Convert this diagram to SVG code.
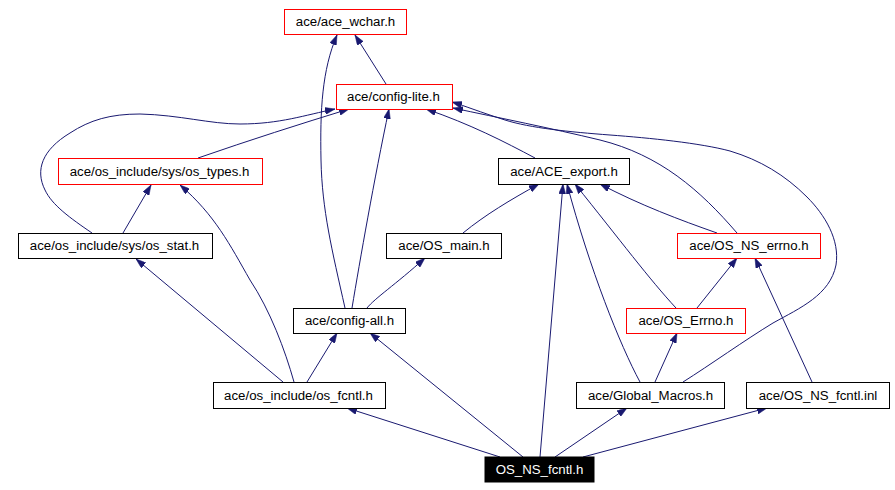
<svg xmlns="http://www.w3.org/2000/svg" width="895" height="490" viewBox="0 0 895 490">
<style>
  .n rect { fill: #ffffff; stroke: #000000; stroke-width: 1; }
  .n.red rect { stroke: #ff0000; }
  .n.root rect { fill: #000000; stroke: #000000; }
  .n text { font-family: "Liberation Sans", Arial, sans-serif; font-size: 13.25px; text-anchor: middle; fill: #000000; }
  .n.root text { fill: #ffffff; }
  #edges path { fill: none; stroke: #191970; stroke-width: 1; marker-end: url(#arr); }
</style>
<defs>
  <marker id="arr" viewBox="0 0 10 7" refX="10" refY="3.5" markerWidth="10" markerHeight="7" markerUnits="userSpaceOnUse" orient="auto">
    <path d="M0,0 L10,3.5 L0,7 z" fill="#191970" stroke="#191970" stroke-width="0.5"/>
  </marker>
</defs>
<rect width="895" height="490" fill="#ffffff"/>
<g id="edges">
  <path d="M386,84 L355,35"/>
  <path d="M345,308 C332,250 322,210 321,160 C320,110 322,70 337,35"/>
  <path d="M352,308 C360,260 374,180 389,109"/>
  <path d="M198,158 C250,140 300,124 349,109"/>
  <path d="M92,233 C70,218 52,205 45,190 C35,170 42,150 70,133 C90,120 110,114 140,114 C180,115 210,124 240,124 C280,124 305,115 335,109"/>
  <path d="M123,233 L151,185"/>
  <path d="M294,382 C285,350 270,310 250,280 C230,245 215,215 180,185"/>
  <path d="M283,382 L136,259"/>
  <path d="M307,382 L337,333"/>
  <path d="M367,308 C375,298 395,285 425,258"/>
  <path d="M463,233 C485,215 510,200 539,184"/>
  <path d="M535,158 C505,142 470,124 426,109"/>
  <path d="M737,233 C700,190 660,155 600,140 C550,128 500,118 453,108"/>
  <path d="M683,382 C710,365 745,340 773,323 C800,308 830,295 836,265 C840,240 825,215 807,197 C785,175 760,160 730,151 C700,143 650,138 610,135 C570,132 530,128 505,120 C480,112 465,106 452,102"/>
  <path d="M717,233 C680,220 640,205 600,184"/>
  <path d="M676,308 C650,280 620,240 575,184"/>
  <path d="M697,308 L737,258"/>
  <path d="M640,382 C620,345 590,270 567,184"/>
  <path d="M655,382 L677,333"/>
  <path d="M812,382 L755,258"/>
  <path d="M500,457 L347,408"/>
  <path d="M523,457 L370,333"/>
  <path d="M540,457 L563,184"/>
  <path d="M555,457 L627,408"/>
  <path d="M583,457 L767,408"/>
</g>
<g id="ace_wchar" class="n red"><rect x="284.5" y="9.5" width="122" height="25"/><text x="345.5" y="26">ace/ace_wchar.h</text></g>
<g id="config_lite" class="n red"><rect x="336.5" y="84.5" width="116" height="25"/><text x="393.5" y="101">ace/config-lite.h</text></g>
<g id="os_types" class="n red"><rect x="58.5" y="158.5" width="204" height="26"/><text x="159.5" y="176">ace/os_include/sys/os_types.h</text></g>
<g id="ace_export" class="n"><rect x="498.5" y="158.5" width="131" height="26"/><text x="564" y="176">ace/ACE_export.h</text></g>
<g id="os_stat" class="n"><rect x="18.5" y="233.5" width="194" height="25"/><text x="114.5" y="250">ace/os_include/sys/os_stat.h</text></g>
<g id="os_main" class="n"><rect x="386.5" y="233.5" width="115" height="25"/><text x="444" y="250">ace/OS_main.h</text></g>
<g id="os_ns_errno" class="n red"><rect x="677.5" y="233.5" width="143" height="25"/><text x="749" y="250">ace/OS_NS_errno.h</text></g>
<g id="config_all" class="n"><rect x="293.5" y="308.5" width="112" height="25"/><text x="349.5" y="325">ace/config-all.h</text></g>
<g id="os_errno" class="n red"><rect x="626.5" y="308.5" width="119" height="25"/><text x="686" y="325">ace/OS_Errno.h</text></g>
<g id="os_fcntl" class="n"><rect x="213.5" y="382.5" width="172" height="26"/><text x="298.5" y="400">ace/os_include/os_fcntl.h</text></g>
<g id="global_macros" class="n"><rect x="576.5" y="382.5" width="148" height="26"/><text x="650.5" y="400">ace/Global_Macros.h</text></g>
<g id="os_ns_fcntl_inl" class="n"><rect x="746.5" y="382.5" width="143" height="26"/><text x="818" y="400">ace/OS_NS_fcntl.inl</text></g>
<g id="os_ns_fcntl_h" class="n root"><rect x="485" y="457" width="109" height="25"/><text x="539.5" y="474">OS_NS_fcntl.h</text></g>
</svg>
